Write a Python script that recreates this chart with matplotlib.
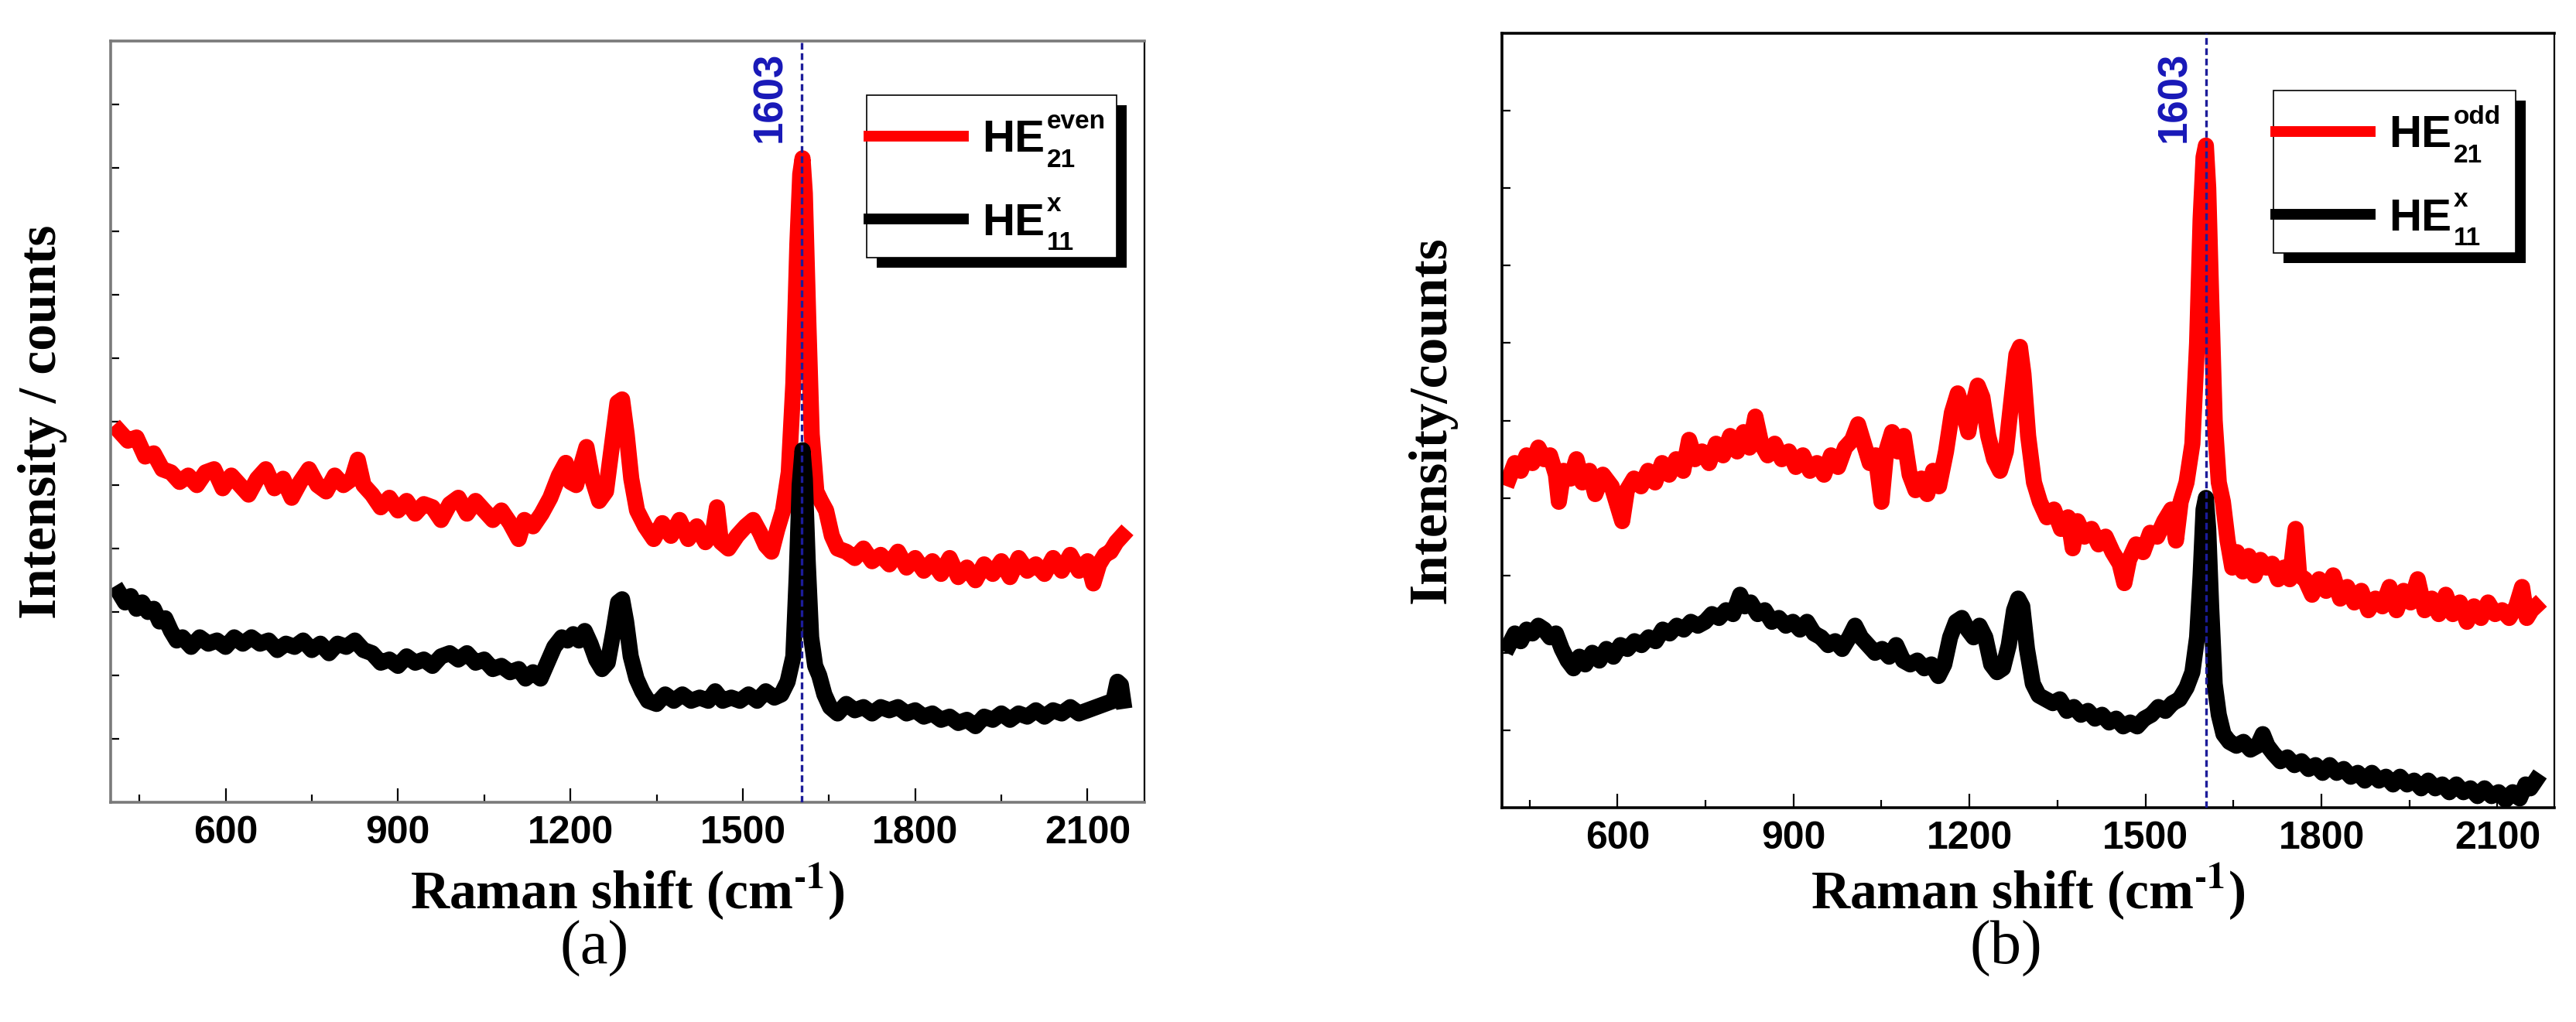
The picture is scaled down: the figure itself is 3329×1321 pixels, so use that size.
"""
Raman spectra of the two mode pairs (HE21 even/odd vs HE11 x), two panels.
Writes out.png
"""

import matplotlib
matplotlib.use("Agg")
import matplotlib.pyplot as plt
from matplotlib.patches import Rectangle
from matplotlib.ticker import MultipleLocator
from matplotlib.transforms import IdentityTransform

plt.rcParams["font.family"] = ["Liberation Sans", "DejaVu Sans"]
plt.rcParams["font.weight"] = "bold"

# ---- Panel (a): HE21 even (red) and HE11 x (black), intensity in tick units
a_red_x = [415, 430, 445, 460, 475, 490, 505, 520, 535, 550, 565, 580, 595, 610, 625,
           640, 655, 670, 685, 700, 715, 730, 745, 760, 775, 790, 805, 820, 830, 840,
           855, 870, 885, 900, 915, 930, 945, 960, 975, 990, 1005, 1020, 1035, 1050,
           1065, 1080, 1095, 1110, 1120, 1135, 1150, 1165, 1180, 1192, 1200, 1210,
           1220, 1228, 1238, 1250, 1262, 1272, 1282, 1290, 1298, 1306, 1316, 1330,
           1345, 1360, 1375, 1390, 1405, 1420, 1435, 1448, 1455, 1462, 1475, 1490,
           1505, 1518, 1530, 1540, 1550, 1560, 1570, 1580, 1588, 1595, 1600, 1604,
           1608, 1614, 1620, 1628, 1636, 1645, 1655, 1665, 1680, 1695, 1710, 1725,
           1740, 1755, 1770, 1785, 1800, 1815, 1830, 1845, 1860, 1875, 1890, 1905,
           1920, 1935, 1950, 1965, 1980, 1995, 2010, 2025, 2040, 2055, 2070, 2085,
           2100, 2110, 2120, 2130, 2140, 2150, 2160]
a_red_y = [5.85, 5.7, 5.75, 5.45, 5.5, 5.25, 5.2, 5.05, 5.15, 5.0, 5.2, 5.25, 4.95, 5.15,
           5.0, 4.85, 5.1, 5.25, 4.95, 5.1, 4.8, 5.05, 5.25, 5.0, 4.9, 5.15, 5.0, 5.1,
           5.4, 5.0, 4.85, 4.65, 4.8, 4.6, 4.75, 4.55, 4.7, 4.65, 4.45, 4.7, 4.8, 4.55,
           4.75, 4.6, 4.45, 4.6, 4.4, 4.15, 4.45, 4.35, 4.55, 4.8, 5.15, 5.35, 5.05, 5.0,
           5.35, 5.6, 5.1, 4.75, 4.9, 5.6, 6.3, 6.35, 5.8, 5.1, 4.6, 4.35, 4.15, 4.4,
           4.2, 4.45, 4.15, 4.35, 4.1, 4.25, 4.65, 4.1, 4.0, 4.2, 4.35, 4.45, 4.25,
           4.05, 3.95, 4.3, 4.6, 5.2, 6.6, 8.8, 9.9, 10.15, 9.6, 7.6, 5.8, 4.9, 4.75,
           4.6, 4.2, 4.0, 3.95, 3.85, 4.0, 3.8, 3.9, 3.75, 3.95, 3.7, 3.85, 3.65, 3.8,
           3.6, 3.85, 3.55, 3.7, 3.5, 3.75, 3.6, 3.8, 3.55, 3.85, 3.65, 3.75, 3.6, 3.85,
           3.65, 3.9, 3.65, 3.8, 3.45, 3.75, 3.9, 3.95, 4.1, 4.2]

a_blk_x = [415, 425, 435, 445, 455, 465, 475, 485, 495, 505, 515, 525, 540, 555, 570,
           585, 600, 615, 630, 645, 660, 675, 690, 705, 720, 735, 750, 765, 780, 795,
           810, 825, 840, 855, 870, 885, 900, 915, 930, 945, 960, 975, 990, 1005, 1020,
           1035, 1050, 1065, 1080, 1095, 1110, 1122, 1135, 1148, 1160, 1172, 1185,
           1195, 1205, 1215, 1225, 1235, 1245, 1255, 1265, 1275, 1283, 1290, 1297,
           1305, 1315, 1325, 1335, 1350, 1365, 1380, 1395, 1410, 1425, 1440, 1452,
           1465, 1480, 1495, 1510, 1525, 1540, 1555, 1567, 1578, 1588, 1594, 1599,
           1604, 1608, 1613, 1619, 1626, 1633, 1642, 1652, 1665, 1680, 1695, 1710,
           1725, 1740, 1755, 1770, 1785, 1800, 1815, 1830, 1845, 1860, 1875, 1890,
           1905, 1920, 1935, 1950, 1965, 1980, 1995, 2010, 2025, 2040, 2055, 2070,
           2085, 2100, 2115, 2130, 2145, 2152, 2158, 2162]
a_blk_y = [3.3, 3.15, 3.25, 3.05, 3.15, 3.0, 3.05, 2.85, 2.9, 2.7, 2.55, 2.6, 2.45, 2.6,
           2.5, 2.55, 2.45, 2.6, 2.5, 2.6, 2.5, 2.55, 2.4, 2.5, 2.45, 2.55, 2.4, 2.5,
           2.35, 2.5, 2.45, 2.55, 2.4, 2.35, 2.2, 2.25, 2.15, 2.3, 2.2, 2.25, 2.15, 2.3,
           2.35, 2.25, 2.35, 2.2, 2.25, 2.1, 2.15, 2.05, 2.1, 1.95, 2.05, 1.95, 2.2,
           2.45, 2.6, 2.55, 2.65, 2.55, 2.7, 2.5, 2.25, 2.1, 2.2, 2.7, 3.15, 3.2, 2.85,
           2.3, 1.95, 1.75, 1.6, 1.55, 1.7, 1.6, 1.7, 1.6, 1.65, 1.6, 1.75, 1.6, 1.65,
           1.6, 1.7, 1.6, 1.75, 1.65, 1.7, 1.9, 2.3, 3.6, 5.0, 5.55, 5.1, 3.8, 2.6,
           2.15, 2.0, 1.7, 1.5, 1.4, 1.55, 1.45, 1.5, 1.4, 1.5, 1.45, 1.5, 1.4, 1.45,
           1.35, 1.4, 1.3, 1.35, 1.25, 1.3, 1.2, 1.35, 1.3, 1.4, 1.3, 1.4, 1.35, 1.45,
           1.35, 1.45, 1.4, 1.5, 1.4, 1.45, 1.5, 1.55, 1.6, 1.9, 1.85, 1.6]

# ---- Panel (b): HE21 odd (red) and HE11 x (black)
b_red_x = [415, 425, 435, 445, 455, 465, 475, 485, 495, 500, 508, 520, 530, 540, 552,
           562, 575, 590, 600, 608, 616, 628, 640, 652, 664, 676, 688, 700, 712, 722,
           732, 744, 756, 768, 780, 792, 804, 815, 825, 835, 845, 856, 868, 880, 892,
           904, 916, 928, 940, 952, 964, 976, 988, 1000, 1010, 1020, 1030, 1040, 1050,
           1058, 1068, 1078, 1088, 1098, 1108, 1118, 1128, 1138, 1148, 1160, 1170,
           1180, 1190, 1198, 1206, 1214, 1222, 1232, 1242, 1252, 1262, 1272, 1280,
           1286, 1292, 1300, 1310, 1320, 1332, 1344, 1356, 1368, 1376, 1384, 1396,
           1408, 1420, 1432, 1444, 1456, 1464, 1472, 1484, 1496, 1508, 1520, 1532,
           1544, 1552, 1560, 1570, 1580, 1588, 1594, 1599, 1603, 1607, 1612, 1618,
           1625, 1632, 1640, 1648, 1656, 1666, 1676, 1686, 1696, 1706, 1716, 1726,
           1736, 1746, 1756, 1762, 1772, 1784, 1796, 1808, 1820, 1832, 1844, 1856,
           1868, 1880, 1892, 1904, 1916, 1928, 1940, 1952, 1964, 1976, 1988, 2000,
           2012, 2024, 2036, 2048, 2060, 2072, 2084, 2096, 2108, 2120, 2132, 2142,
           2150, 2158, 2165]
b_red_y = [4.25, 4.45, 4.35, 4.55, 4.45, 4.65, 4.5, 4.55, 4.3, 3.95, 4.35, 4.25, 4.5,
           4.2, 4.35, 4.05, 4.3, 4.15, 3.9, 3.7, 4.1, 4.25, 4.15, 4.35, 4.2, 4.45, 4.3,
           4.5, 4.35, 4.75, 4.5, 4.6, 4.45, 4.7, 4.55, 4.8, 4.6, 4.85, 4.65, 5.05, 4.7,
           4.55, 4.7, 4.5, 4.6, 4.4, 4.55, 4.35, 4.45, 4.3, 4.55, 4.4, 4.65, 4.75, 4.95,
           4.7, 4.45, 4.55, 3.95, 4.6, 4.85, 4.6, 4.8, 4.3, 4.1, 4.25, 4.05, 4.35, 4.15,
           4.6, 5.1, 5.35, 5.1, 4.85, 5.2, 5.45, 5.3, 4.8, 4.5, 4.35, 4.6, 5.3, 5.85,
           5.95, 5.6, 4.8, 4.2, 3.95, 3.75, 3.85, 3.6, 3.75, 3.35, 3.7, 3.5, 3.6, 3.4,
           3.5, 3.3, 3.15, 2.9, 3.2, 3.4, 3.3, 3.55, 3.5, 3.7, 3.85, 3.45, 3.95, 4.2,
           4.7, 6.0, 7.6, 8.4, 8.55, 8.0, 6.6, 5.0, 4.2, 3.95, 3.45, 3.1, 3.3, 3.05,
           3.25, 3.0, 3.2, 3.1, 3.15, 2.95, 3.1, 2.95, 3.6, 3.0, 2.95, 2.75, 2.95, 2.8,
           3.0, 2.7, 2.85, 2.65, 2.8, 2.55, 2.7, 2.6, 2.85, 2.55, 2.8, 2.65, 2.95, 2.55,
           2.7, 2.5, 2.75, 2.5, 2.65, 2.4, 2.6, 2.45, 2.65, 2.5, 2.55, 2.45, 2.6, 2.85,
           2.45, 2.55, 2.6]

b_blk_x = [415, 425, 435, 445, 455, 465, 475, 485, 495, 505, 515, 525, 535, 545, 557,
           569, 581, 593, 605, 617, 629, 641, 653, 665, 677, 689, 701, 713, 725, 737,
           749, 761, 773, 785, 797, 809, 817, 827, 839, 851, 863, 875, 887, 899, 911,
           923, 935, 947, 959, 971, 983, 995, 1005, 1015, 1027, 1039, 1051, 1063, 1075,
           1087, 1099, 1111, 1123, 1135, 1147, 1157, 1167, 1177, 1187, 1197, 1207,
           1217, 1227, 1237, 1247, 1257, 1267, 1276, 1283, 1290, 1298, 1308, 1318,
           1330, 1342, 1354, 1366, 1378, 1390, 1402, 1414, 1426, 1438, 1450, 1462,
           1474, 1486, 1498, 1510, 1522, 1534, 1546, 1558, 1570, 1580, 1588, 1594,
           1599, 1603, 1607, 1612, 1618, 1625, 1633, 1643, 1655, 1667, 1679, 1691,
           1700, 1708, 1718, 1730, 1742, 1754, 1766, 1778, 1790, 1802, 1814, 1826,
           1838, 1850, 1862, 1874, 1886, 1898, 1910, 1922, 1934, 1946, 1958, 1970,
           1982, 1994, 2006, 2018, 2030, 2042, 2054, 2066, 2078, 2090, 2102, 2114,
           2126, 2138, 2148, 2156, 2165]
b_blk_y = [2.1, 2.25, 2.15, 2.3, 2.25, 2.35, 2.3, 2.2, 2.25, 2.05, 1.9, 1.8, 1.95, 1.85,
           2.0, 1.9, 2.05, 1.95, 2.1, 2.05, 2.15, 2.1, 2.2, 2.15, 2.3, 2.25, 2.35, 2.3,
           2.4, 2.35, 2.4, 2.5, 2.45, 2.55, 2.5, 2.75, 2.6, 2.65, 2.5, 2.55, 2.4, 2.45,
           2.35, 2.4, 2.3, 2.4, 2.25, 2.2, 2.1, 2.15, 2.05, 2.2, 2.35, 2.2, 2.1, 2.0,
           2.05, 1.95, 2.1, 1.9, 1.85, 1.9, 1.8, 1.85, 1.7, 1.85, 2.2, 2.4, 2.45, 2.3,
           2.2, 2.35, 2.2, 1.85, 1.75, 1.8, 2.1, 2.55, 2.7, 2.6, 2.05, 1.6, 1.45, 1.4,
           1.35, 1.4, 1.25, 1.3, 1.2, 1.25, 1.15, 1.2, 1.1, 1.15, 1.05, 1.1, 1.05, 1.15,
           1.2, 1.3, 1.25, 1.35, 1.4, 1.55, 1.75, 2.2, 3.0, 3.85, 4.0, 3.6, 2.6, 1.6,
           1.2, 0.95, 0.85, 0.8, 0.85, 0.75, 0.8, 0.95, 0.8, 0.7, 0.6, 0.65, 0.55, 0.6,
           0.5, 0.55, 0.45, 0.55, 0.45, 0.5, 0.4, 0.45, 0.35, 0.45, 0.35, 0.4, 0.3, 0.4,
           0.3, 0.35, 0.25, 0.35, 0.25, 0.3, 0.2, 0.3, 0.2, 0.25, 0.15, 0.25, 0.15, 0.2,
           0.1, 0.2, 0.12, 0.3, 0.25, 0.35]

peak_pos = 1603
x_major = [600, 900, 1200, 1500, 1800, 2100]
# legend entries: base text, subscript, superscript
a_legend = [("HE", "21", "even"), ("HE", "11", "x")]
b_legend = [("HE", "21", "odd"), ("HE", "11", "x")]

# ---- Figure in pixel layout (100 dpi -> 1 px per 0.01 in)
W, H = 3329, 1321
fig = plt.figure(figsize=(W / 100, H / 100), dpi=100)
LEG_FS = 42
SCRIPT_FS = 24


def axes_px(left, top, right, bottom):
    return fig.add_axes([left / W, 1 - bottom / H, (right - left) / W, (bottom - top) / H])


def fig_rect(left, top, right, bottom, **kw):
    return Rectangle((left / W, 1 - bottom / H), (right - left) / W, (bottom - top) / H,
                     transform=fig.transFigure, clip_on=False, **kw)


def draw_panel(ax, red, blk, entries, xlim, ny, spine_col, label_drop, box):
    ax.plot(red[0], red[1], color="#ff0000", lw=15, solid_joinstyle="round",
            label=entries[0][0], zorder=2)
    ax.plot(blk[0], blk[1], color="black", lw=15, solid_joinstyle="round",
            label=entries[1][0], zorder=2.1)
    ax.axvline(peak_pos, color="#1c1c9a", lw=2.4, ls=(0, (2.6, 1.4)), zorder=3)
    ax.annotate(str(peak_pos), xy=(peak_pos, 1), xycoords=("data", "axes fraction"),
                xytext=(-11.5, -label_drop), textcoords="offset points",
                rotation=90, ha="right", va="top", color="#1818b8",
                fontsize=38, fontweight="bold")

    ax.set_xlim(*xlim)
    ax.set_ylim(0, ny)
    ax.set_xticks(x_major)
    ax.xaxis.set_minor_locator(MultipleLocator(150))
    ax.set_yticks(list(range(1, ny)))
    ax.set_yticklabels([])
    ax.tick_params(axis="x", which="major", direction="in", length=13, width=1.6,
                   labelsize=36, pad=12)
    ax.tick_params(axis="x", which="minor", direction="in", length=7, width=1.6)
    ax.tick_params(axis="y", direction="in", length=8, width=1.6)

    for side in ["left", "top", "bottom"]:
        ax.spines[side].set_color(spine_col)
        ax.spines[side].set_linewidth(2.6)
    ax.spines["right"].set_color("black")
    ax.spines["right"].set_linewidth(1.6)

    # legend box with a solid black drop shadow, drawn by hand
    l, t, r, b = box
    ax.add_artist(fig_rect(l + 13, t + 13, r + 13, b + 13, facecolor="black",
                           edgecolor="none", zorder=4.4))
    ax.add_artist(fig_rect(l, t, r, b, facecolor="white", edgecolor="black",
                           lw=1.2, zorder=4.5))
    leg = ax.legend(loc="upper left", bbox_to_anchor=(l / W, 1 - (t + 28) / H),
                    bbox_transform=fig.transFigure, borderaxespad=0, frameon=False,
                    fontsize=LEG_FS, handlelength=2.1, handletextpad=0.4, borderpad=0.05,
                    labelspacing=0.92)
    leg.set_zorder(5)
    for ln in leg.get_lines():
        ln.set_linewidth(10)
    return leg


def add_scripts(leg, entries):
    # subscript / superscript next to each legend "HE"
    rend = fig.canvas.get_renderer()
    descent = 0.21 * LEG_FS * 100 / 72
    for txt, (_, sub, sup) in zip(leg.get_texts(), entries):
        bb = txt.get_window_extent(rend)
        base = bb.y0 + descent
        x0 = bb.x1 + 3
        fig.text(x0, base - 20, sub, transform=IdentityTransform(), fontsize=SCRIPT_FS,
                 ha="left", va="baseline", zorder=6)
        fig.text(x0, base + 30, sup, transform=IdentityTransform(), fontsize=SCRIPT_FS,
                 ha="left", va="baseline", zorder=6)


ax_a = axes_px(143, 53, 1479, 1037)
leg_a = draw_panel(ax_a, (a_red_x, a_red_y), (a_blk_x, a_blk_y), a_legend,
                   (400, 2199), 12, "#7a7a7a", 10, (1120, 123, 1443, 333))

ax_b = axes_px(1941, 43, 3301, 1044)
leg_b = draw_panel(ax_b, (b_red_x, b_red_y), (b_blk_x, b_blk_y), b_legend,
                   (403, 2197), 10, "black", 17, (2938, 117, 3251, 327))

# ---- Axis titles and panel tags
serif = ["Liberation Serif", "DejaVu Serif"]
fig.text(55 / W, 1 - 545 / H, "Intensity / counts", rotation=90, ha="center", va="center",
         family=serif, fontweight="bold", fontsize=50)
fig.text(1851 / W, 1 - 543 / H, "Intensity/counts", rotation=90, ha="center", va="center",
         family=serif, fontweight="bold", fontsize=50)
for xc in (811, 2621):
    fig.text(xc / W, 1 - 1153 / H, r"Raman shift (cm$^{\text{-1}}$)", ha="center",
             va="center", family=serif, fontweight="bold", fontsize=50,
             math_fontfamily="stix")
fig.text(768 / W, 1 - 1226 / H, "(a)", ha="center", va="center", family=serif,
         fontweight="normal", fontsize=58)
fig.text(2592 / W, 1 - 1226 / H, "(b)", ha="center", va="center", family=serif,
         fontweight="normal", fontsize=58)

fig.canvas.draw()
add_scripts(leg_a, a_legend)
add_scripts(leg_b, b_legend)

fig.savefig("out.png", dpi=100)
print("Wrote: out.png")
